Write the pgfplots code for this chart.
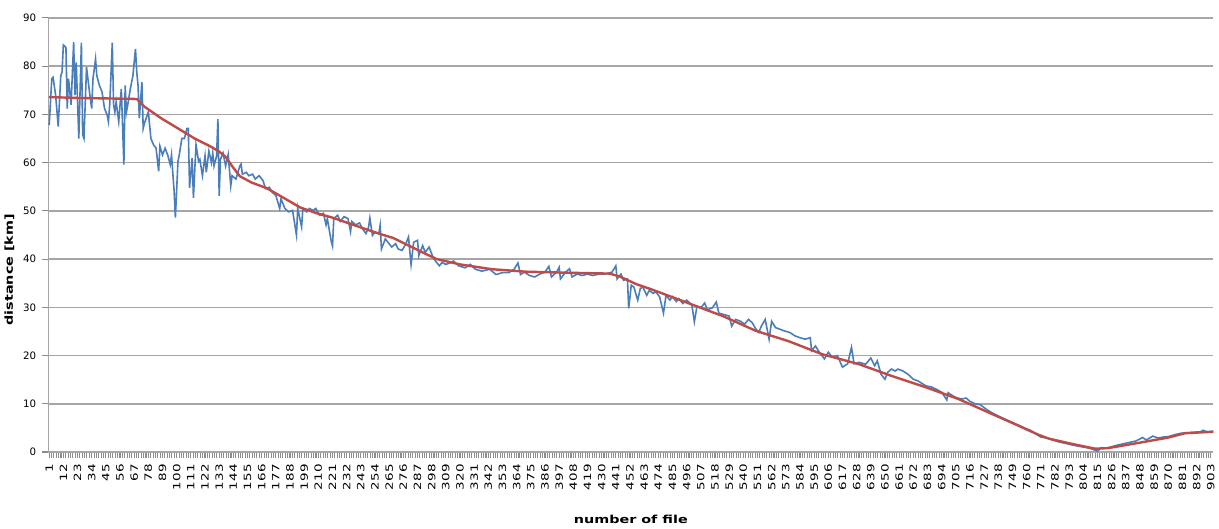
\documentclass[border=0pt]{standalone}
\usepackage{pgfplots}
\pgfplotsset{compat=1.18}
\usepackage{fontspec}
\setmainfont{DejaVu Sans}

\definecolor{SeriesBlue}{RGB}{74,126,187}
\definecolor{SeriesRed}{RGB}{190,75,72}
\definecolor{GridGray}{RGB}{166,166,166}
\definecolor{TickGray}{RGB}{140,140,140}

\begin{document}
\begin{tikzpicture}
\begin{axis}[
    scale only axis,
    width=875pt,
    height=326pt,
    xmin=0.3, xmax=905,
    ymin=0, ymax=90,
    xtick={1,12,...,903},
    minor x tick num=5,
    ytick={0,10,...,90},
    axis x line*=bottom,
    axis y line*=left,
    axis line style={GridGray, line width=1.1pt},
    ymajorgrids,
    major grid style={GridGray, line width=1.1pt},
    tick align=outside,
    major tick length=4.5pt,
    minor tick length=4.5pt,
    tick style={TickGray, line width=0.8pt},
    /pgf/number format/assume math mode=true,
    yticklabel style={font=\fontsize{7.7}{9}\selectfont, xshift=-1pt},
    xticklabel style={font=\fontsize{7.5}{9}\selectfont, rotate=90, anchor=east, xscale=1.35},
    xlabel={\bfseries number of file},
    ylabel={\bfseries distance [km]},
    xlabel style={font=\fontsize{8.3}{10}\selectfont, xscale=1.3, yshift=-11pt},
    ylabel style={font=\fontsize{8.3}{10}\selectfont, at={(rel axis cs:0,0.42)}, anchor=south, xscale=1.3, yshift=22pt},
]
% measured series
\addplot[SeriesBlue, line width=1.2pt] coordinates {
(1,67.8) (3,77.4) (4,77.7) (6,74.0) (8,67.5) (10,78.0) (11,78.8) (12,84.4)
(14,83.9) (15,71.2) (16,77.4) (18,72.0) (20,85.0) (21,74.0) (22,80.8) (24,65.0)
(26,84.9) (27,65.8) (28,65.0) (30,79.8) (32,75.3) (34,71.2) (35,77.4) (37,81.5)
(38,78.0) (40,76.0) (42,74.7) (44,71.2) (46,69.9) (47,68.5) (48,72.0) (50,84.9)
(51,72.0) (52,70.5) (53,72.6) (55,68.5) (57,75.3) (59,59.6) (60,76.0) (61,70.5)
(62,72.0) (64,75.3) (66,78.0) (68,83.6) (69,78.8) (70,76.0) (71,69.2) (73,76.7)
(74,67.1) (75,68.2) (78,70.5) (80,65.0) (82,63.7) (84,63.0) (86,58.2) (87,63.4)
(89,61.6) (91,63.0) (93,61.6) (95,59.6) (96,61.6) (98,54.1) (99,48.6) (101,60.3)
(102,61.6) (104,65.0) (106,65.0) (108,67.1) (109,67.1) (110,54.8) (112,61.0) (113,52.7)
(115,63.7) (117,60.3) (118,60.7) (120,57.3) (122,61.4) (123,58.0) (125,62.4) (127,60.0)
(128,62.0) (129,59.3) (131,61.4) (132,69.0) (133,53.1) (134,60.7) (136,62.0) (138,59.3)
(140,61.7) (142,55.2) (143,57.3) (146,56.6) (149,59.3) (150,59.7) (151,57.6) (154,58.0)
(156,57.3) (159,57.6) (161,56.6) (164,57.3) (167,56.3) (169,54.6) (172,54.9) (174,53.9)
(177,53.2) (180,50.5) (181,52.5) (184,50.5) (187,49.8) (190,50.1) (193,45.0) (194,50.5)
(197,46.7) (198,50.5) (201,49.8) (203,50.5) (206,50.1) (208,50.5) (211,49.1) (214,49.5)
(216,47.1) (217,48.4) (220,43.7) (221,42.7) (222,48.4) (225,49.1) (227,47.8) (230,48.8)
(233,48.4) (235,45.7) (236,47.8) (239,47.1) (242,47.5) (244,46.4) (247,45.3) (249,46.6)
(250,48.5) (252,44.9) (254,45.6) (257,45.3) (258,47.0) (259,42.1) (262,44.2) (264,43.5)
(267,42.5) (270,43.2) (272,42.1) (275,41.8) (278,43.2) (280,44.6) (282,38.9) (284,43.5)
(287,43.9) (288,40.7) (291,42.8) (293,41.4) (296,42.5) (299,40.4) (301,39.6) (304,38.6)
(306,39.3) (309,38.9) (313,39.3) (315,39.6) (319,38.6) (324,38.2) (328,38.9) (332,37.9)
(337,37.5) (343,37.9) (348,36.8) (353,37.2) (358,37.2) (362,37.9) (365,39.2) (367,36.8)
(370,37.3) (374,36.6) (378,36.3) (382,36.9) (386,37.3) (389,38.5) (391,36.3) (395,37.3)
(397,38.3) (398,35.9) (402,37.3) (405,38.0) (407,36.3) (411,36.9) (415,36.6) (419,36.9)
(423,36.6) (428,36.9) (433,36.9) (438,37.3) (441,38.6) (442,35.9) (445,36.9) (447,35.6)
(450,35.9) (451,29.8) (453,34.6) (455,34.2) (458,31.5) (460,33.9) (462,34.2) (465,32.5)
(467,33.5) (470,32.9) (472,33.2) (475,32.2) (478,28.8) (480,32.5) (483,31.5) (485,32.2)
(488,31.2) (490,31.8) (493,30.8) (496,31.5) (498,31.0) (500,30.5) (502,27.0) (504,30.2)
(507,29.9) (510,30.9) (512,29.5) (516,29.9) (519,31.1) (521,28.8) (525,28.5) (529,28.2)
(531,26.1) (534,27.5) (538,27.1) (541,26.5) (544,27.5) (547,26.8) (549,25.8) (552,24.8)
(554,26.1) (557,27.5) (560,23.4) (562,27.1) (565,25.8) (569,25.4) (572,25.1) (576,24.8)
(580,24.1) (584,23.7) (588,23.4) (592,23.7) (593,21.0) (596,22.0) (599,20.7) (603,19.3)
(606,20.7) (609,19.7) (613,20.0) (617,17.6) (621,18.3) (624,21.7) (626,18.3) (630,18.6)
(635,18.2) (639,19.5) (642,17.9) (644,18.9) (647,16.1) (650,15.1) (652,16.5) (655,17.2)
(658,16.8) (660,17.2) (664,16.8) (668,16.1) (672,15.1) (676,14.7) (680,14.0) (682,13.7)
(686,13.5) (690,13.0) (694,12.4) (698,10.8) (699,12.3) (703,11.6) (706,11.2) (710,11.0)
(713,11.2) (716,10.5) (720,10.0) (724,9.8) (729,8.8) (734,8.0) (740,7.2) (745,6.6)
(750,6.0) (755,5.4) (759,4.9) (763,4.5) (767,3.8) (771,3.1) (776,2.9) (780,2.5)
(785,2.1) (790,1.8) (795,1.5) (800,1.2) (805,1.0) (810,0.7) (815,0.2) (818,0.9)
(822,0.8) (826,1.1) (830,1.4) (835,1.7) (840,2.0) (845,2.3) (850,3.0) (853,2.5)
(858,3.3) (862,2.9) (866,3.1) (870,3.2) (875,3.6) (880,3.9) (885,4.0) (890,4.1)
(895,4.2) (897,4.5) (900,4.2) (905,4.3)
};
% smoothed series
\addplot[SeriesRed, line width=1.8pt] coordinates {
(1,73.6) (25,73.4) (50,73.3) (69,73.2) (75,71.6) (88,69.2) (101,67.1) (114,65.0)
(126,63.4) (133,62.3) (138,61.2) (143,59.3) (149,57.2) (158,55.9) (170,54.7) (185,52.4)
(196,50.7) (210,49.4) (221,48.6) (235,47.3) (247,46.2) (258,45.2) (268,44.4) (281,42.7)
(294,41.0) (302,40.0) (320,38.9) (345,37.9) (371,37.4) (400,37.2) (436,37.0) (444,36.4)
(457,34.8) (469,33.7) (482,32.4) (500,30.6) (524,28.2) (550,25.1) (575,23.0) (601,20.3)
(630,18.2) (655,15.8) (682,13.4) (707,11.0) (733,7.9) (750,5.9) (769,3.6) (777,2.8)
(795,1.7) (813,0.7) (823,0.8) (847,1.9) (870,3.0) (883,3.9) (905,4.2)
};
\end{axis}
\path (current axis.north) ++(0,13.5pt);
\path (current axis.east) ++(3pt,0);
\path (current axis.west) ++(-36pt,0);
\end{tikzpicture}
\end{document}
